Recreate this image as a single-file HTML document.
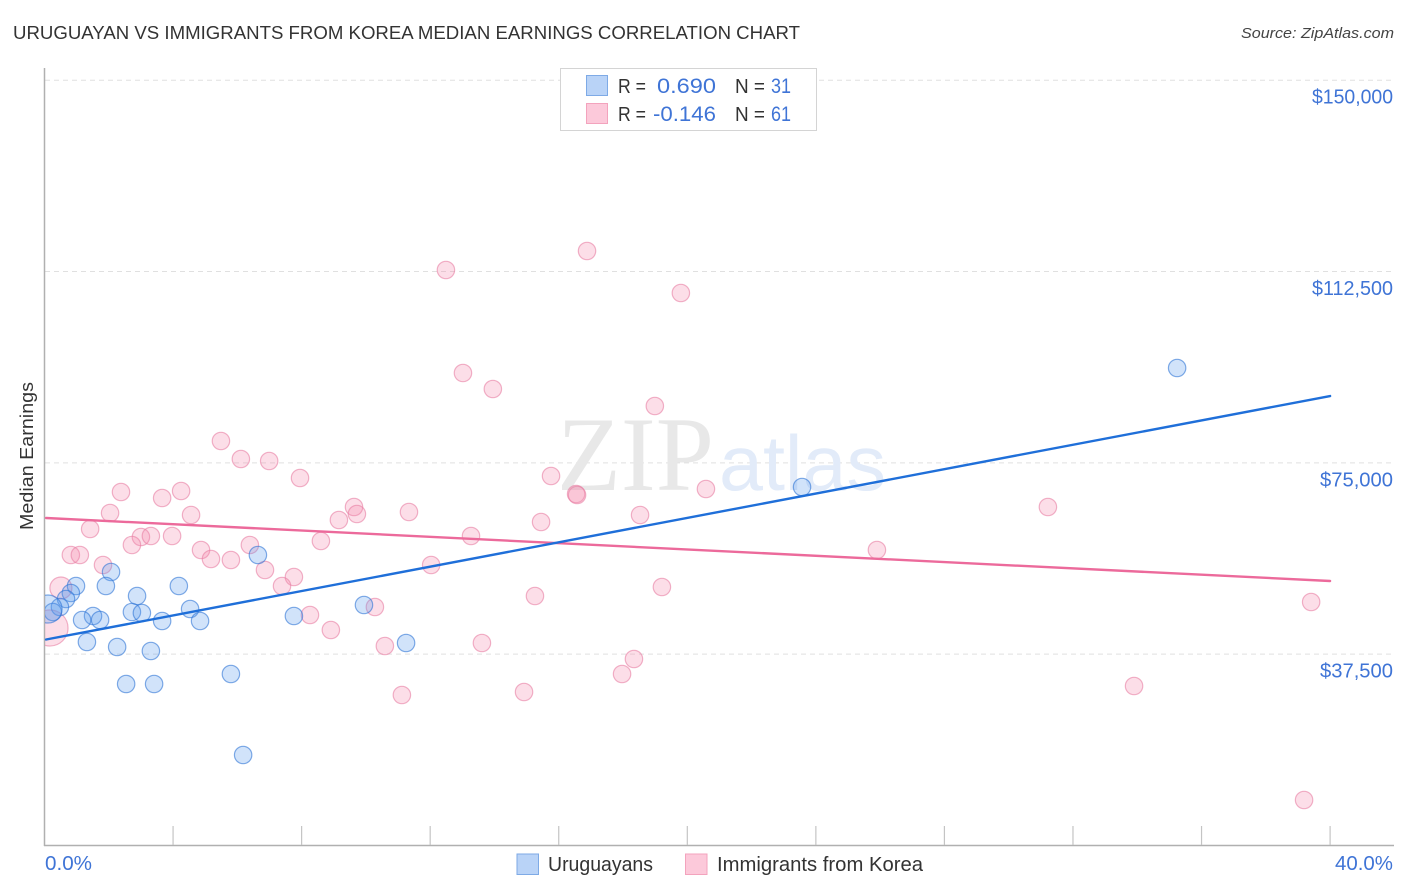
<!DOCTYPE html>
<html lang="en">
<head>
<meta charset="utf-8">
<title>Uruguayan vs Immigrants from Korea Median Earnings Correlation Chart</title>
<style>
html,body{margin:0;padding:0;background:#fff;}
svg{display:block;font-family:"Liberation Sans",sans-serif;}
</style>
</head>
<body>
<svg id="chart" xmlns="http://www.w3.org/2000/svg" width="1406" height="892" viewBox="0 0 1406 892">
  <defs><clipPath id="plot-clip"><rect x="45" y="60" width="1349" height="786"></rect></clipPath></defs>
  <rect x="0" y="0" width="1406" height="892" fill="#fff"></rect>
  <text x="13" y="39" font-size="18.5" fill="#333" textLength="787" lengthAdjust="spacingAndGlyphs">URUGUAYAN VS IMMIGRANTS FROM KOREA MEDIAN EARNINGS CORRELATION CHART</text>
  <text x="1394" y="38" font-size="15" font-style="italic" fill="#444" text-anchor="end" textLength="153" lengthAdjust="spacingAndGlyphs">Source: ZipAtlas.com</text>
  <g id="grid"></g>
  <text x="557" y="490" font-family="'Liberation Serif',serif" font-size="106" fill="#e8e8e8" textLength="157" lengthAdjust="spacingAndGlyphs">ZIP</text>
  <text x="719" y="490" font-size="78" fill="#e2ebf9" textLength="167" lengthAdjust="spacingAndGlyphs">atlas</text>
  <g id="axes">
    <line x1="44.5" y1="68" x2="44.5" y2="846" stroke="#b0b0b0" stroke-width="1.5"></line>
    <line x1="44" y1="845.5" x2="1394" y2="845.5" stroke="#b0b0b0" stroke-width="1.5"></line>
  </g>
  <g id="x-ticks"></g>
  <g id="pink-points" clip-path="url(#plot-clip)"></g>
  <g id="blue-points" clip-path="url(#plot-clip)"></g>
  <line id="pink-trend" stroke="#ec6a9b" stroke-width="2.4" stroke-linecap="round"></line>
  <line id="blue-trend" stroke="#1f6fd9" stroke-width="2.4" stroke-linecap="round"></line>
  <g id="y-labels"></g>
  <text x="45" y="870" font-size="20" fill="#3f74d6" textLength="47" lengthAdjust="spacingAndGlyphs">0.0%</text>
  <text x="1393" y="870" font-size="20" fill="#3f74d6" text-anchor="end" textLength="58" lengthAdjust="spacingAndGlyphs">40.0%</text>
  <text transform="translate(33,456) rotate(-90)" font-size="18.5" fill="#333" text-anchor="middle" textLength="148" lengthAdjust="spacingAndGlyphs">Median Earnings</text>
  <g>
    <rect x="560.5" y="68.5" width="256" height="62" fill="#fff" stroke="#d4d4d4"></rect>
    <rect x="586.5" y="75.5" width="21" height="20" fill="#b9d3f7" stroke="#7eaae6"></rect>
    <text x="618" y="93" font-size="20" fill="#333" textLength="28" lengthAdjust="spacingAndGlyphs">R =</text>
    <text x="657" y="93" font-size="21.5" fill="#3f74d6" textLength="59" lengthAdjust="spacingAndGlyphs">0.690</text>
    <text x="735" y="93" font-size="20" fill="#333" textLength="30" lengthAdjust="spacingAndGlyphs">N =</text>
    <text x="771" y="93" font-size="21.5" fill="#3f74d6" textLength="20" lengthAdjust="spacingAndGlyphs">31</text>
    <rect x="586.5" y="103.5" width="21" height="20" fill="#fcc9da" stroke="#f3a3bd"></rect>
    <text x="618" y="121" font-size="20" fill="#333" textLength="28" lengthAdjust="spacingAndGlyphs">R =</text>
    <text x="653" y="121" font-size="21.5" fill="#3f74d6" textLength="63" lengthAdjust="spacingAndGlyphs">-0.146</text>
    <text x="735" y="121" font-size="20" fill="#333" textLength="30" lengthAdjust="spacingAndGlyphs">N =</text>
    <text x="771" y="121" font-size="21.5" fill="#3f74d6" textLength="20" lengthAdjust="spacingAndGlyphs">61</text>
  </g>
  <g>
    <rect x="517" y="854" width="21.5" height="20.5" fill="#b9d3f7" stroke="#7eaae6"></rect>
    <text x="548" y="871" font-size="20" fill="#333" textLength="105" lengthAdjust="spacingAndGlyphs">Uruguayans</text>
    <rect x="685.5" y="854" width="21.5" height="20.5" fill="#fcc9da" stroke="#f3a3bd"></rect>
    <text x="717" y="871" font-size="20" fill="#333" textLength="206" lengthAdjust="spacingAndGlyphs">Immigrants from Korea</text>
  </g>
</svg>
<script>
const yTickValues = [37500, 75000, 112500, 150000];
const yTickLabels = ["$37,500", "$75,000", "$112,500", "$150,000"];
const xTickValues = [4, 8, 12, 16, 20, 24, 28, 32, 36, 40];

const blueX = [35.24,23.57,6.64,2.07,0.98,1.91,4.18,0.82,2.88,0.67,0.48,0.26,0.11,4.53,2.72,3.03,1.51,1.17,1.73,3.66,4.84,7.76,9.94,1.32,2.26,3.31,11.25,5.80,2.54,3.41,6.18];
const blueY = [93590,70266,56938,53606,50862,50862,50862,49490,48902,48314,46746,45766,46354,46354,45766,45570,44982,44198,44198,44002,44002,44982,47138,39886,38906,38122,39690,33614,31654,31654,17738];
const blueWeights = {12: 2.6};

const pinkX = [16.88,12.49,19.80,13.02,13.95,18.99,5.49,6.11,6.99,7.95,15.76,16.54,16.57,20.58,2.38,4.25,3.66,2.04,4.56,9.63,9.72,9.16,11.34,18.53,15.45,31.22,1.42,3.00,3.31,3.97,2.72,8.60,6.39,13.27,4.87,5.18,5.80,0.82,1.10,1.82,6.86,12.03,25.90,7.76,7.39,0.51,19.21,15.26,39.41,8.26,10.28,8.91,0.17,13.61,10.59,18.34,17.97,33.90,11.12,14.92,39.19];
const pinkY = [116522,112798,108290,92610,89474,86142,79282,75754,75362,72030,72422,68894,68698,69874,69286,69482,68110,65170,64778,66346,64974,63798,65366,64778,63406,66346,62034,60466,60662,60662,58898,59682,58898,60662,57918,56154,55958,56938,56938,54978,53998,54978,57918,52626,50862,50470,50666,48902,47726,45178,46746,42238,42630,39690,39102,36554,33614,31262,29498,30086,8918];
const pinkWeights = {45: 1.6, 52: 4.3};

const blueTrend = [40376, 88100];
const pinkTrend = [64190, 51842];
const trendX = [0.05, 40];

const SVG_NS = "http://www.w3.org/2000/svg";
const yLabelWidthsByLength = {7: 73, 8: 81};
function xScale(v) { return 44.5 + v * 32.14; }
function yScale(v) { return 845.5 - v * 0.005102; }

const gridGroup = document.getElementById("grid");
yTickValues.forEach(function (v) {
  const ln = document.createElementNS(SVG_NS, "line");
  
  
  ln.setAttribute("x1", 45);
  ln.setAttribute("x2", 1393);
  ln.setAttribute("y1", yScale(v));
  ln.setAttribute("y2", yScale(v));
  ln.setAttribute("stroke", "#e0e0e0");
  ln.setAttribute("stroke-dasharray", "5 4");
  gridGroup.appendChild(ln);
});

const yLabelGroup = document.getElementById("y-labels");
yTickValues.forEach(function (v, i) {
  const t = document.createElementNS(SVG_NS, "text");
  
  
  t.setAttribute("x", 1393);
  t.setAttribute("y", yScale(v) + 23.5);
  t.setAttribute("font-size", 20);
  t.setAttribute("fill", "#3f74d6");
  t.setAttribute("text-anchor", "end");
  t.setAttribute("textLength", yLabelWidthsByLength[yTickLabels[i].length]);
  t.setAttribute("lengthAdjust", "spacingAndGlyphs");
  t.textContent = yTickLabels[i];
  yLabelGroup.appendChild(t);
});

const xTickGroup = document.getElementById("x-ticks");
xTickValues.forEach(function (v) {
  const ln = document.createElementNS(SVG_NS, "line");
  
  
  ln.setAttribute("x1", xScale(v));
  ln.setAttribute("x2", xScale(v));
  ln.setAttribute("y1", 826);
  ln.setAttribute("y2", 845);
  ln.setAttribute("stroke", "#c4c4c4");
  ln.setAttribute("stroke-width", 1.2);
  xTickGroup.appendChild(ln);
});

function drawPoints(groupId, xs, ys, weights, fill, stroke, name) {
  const g = document.getElementById(groupId);
  xs.forEach(function (x, i) {
    const c = document.createElementNS(SVG_NS, "circle");
    
    
    c.setAttribute("cx", xScale(x));
    c.setAttribute("cy", yScale(ys[i]));
    c.setAttribute("r", 8.7 * Math.sqrt(weights[i] || 1));
    c.setAttribute("fill", fill);
    c.setAttribute("fill-opacity", 0.28);
    c.setAttribute("stroke", stroke);
    c.setAttribute("stroke-opacity", 0.6);
    c.setAttribute("stroke-width", 1.2);
    g.appendChild(c);
  });
}
drawPoints("pink-points", pinkX, pinkY, pinkWeights, "#f589ae", "#e77fa3", "korea-point");
drawPoints("blue-points", blueX, blueY, blueWeights, "#5b9bec", "#2f75d6", "uruguayan-point");

function drawTrend(id, values) {
  const ln = document.getElementById(id);
  ln.setAttribute("x1", xScale(trendX[0]));
  ln.setAttribute("y1", yScale(values[0]));
  ln.setAttribute("x2", xScale(trendX[1]));
  ln.setAttribute("y2", yScale(values[1]));
}
drawTrend("blue-trend", blueTrend);
drawTrend("pink-trend", pinkTrend);
</script>
</body>
</html>
